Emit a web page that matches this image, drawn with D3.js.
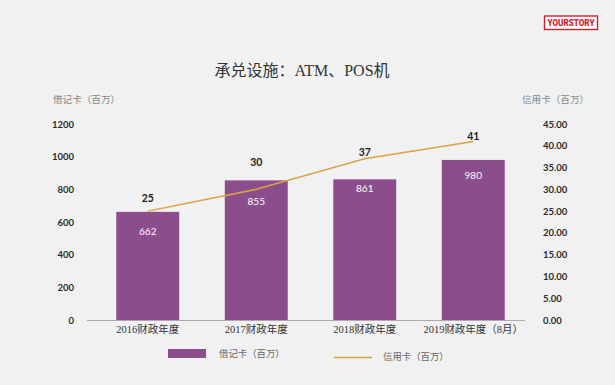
<!DOCTYPE html>
<html>
<head>
<meta charset="utf-8">
<script src="https://cdn.jsdelivr.net/npm/d3@7/dist/d3.min.js"></script>
<style>
  html, body { margin: 0; padding: 0; background: #f1f1f1; }
  svg { display: block; }
  .serif { font-family: "Liberation Serif", "DejaVu Serif", "Noto Sans CJK SC", serif; }
  .sans { font-family: Lato, "Open Sans", "Noto Sans CJK SC", sans-serif; }
</style>
</head>
<body>
<svg id="chart" width="615" height="385"></svg>
<script>
// ---- data ----
const categories = ["2016财政年度", "2017财政年度", "2018财政年度", "2019财政年度（8月）"];
const debitCards = [662, 855, 861, 980];      // 借记卡（百万）
const creditCards = [25, 30, 37, 41];         // 信用卡（百万）
const leftTicks = [0, 200, 400, 600, 800, 1000, 1200];
const rightTicks = [0, 5, 10, 15, 20, 25, 30, 35, 40, 45];
const title = "承兑设施：ATM、POS机";
const leftTitle = "借记卡（百万）";
const rightTitle = "信用卡（百万）";
const legendLabels = ["借记卡（百万）", "信用卡（百万）"];

// ---- drawing ----
const barColor = "#8b4d8b";
const lineColor = "#d8a443";
const svg = d3.select("#chart");

svg.append("rect").attr("width", 615).attr("height", 385).attr("fill", "#f1f1f1");

const x = d3.scaleBand().domain(categories).range([93.5, 527.5]).paddingInner(0.42).paddingOuter(0.21);
const yL = d3.scaleLinear().domain([0, 1200]).range([320, 124]);
const yR = d3.scaleLinear().domain([0, 45]).range([320, 124]);

// title
svg.append("text").attr("class", "serif").attr("x", 302).attr("y", 76)
  .attr("text-anchor", "middle").attr("font-size", 16).attr("fill", "#333").text(title);

// logo
const logo = svg.append("g");
logo.append("rect").attr("x", 544.5).attr("y", 16).attr("width", 53).attr("height", 13.5)
  .attr("fill", "#fff").attr("stroke", "#d0202e").attr("stroke-width", 1.4);
logo.append("text").attr("x", 571).attr("y", 26.4).attr("text-anchor", "middle")
  .attr("font-family", "Roboto, 'Liberation Sans Narrow', sans-serif").attr("font-weight", 900)
  .attr("font-size", 9).attr("fill", "#d0202e").attr("textLength", 47).attr("lengthAdjust", "spacingAndGlyphs")
  .text("YOURSTORY");

// axis titles
svg.append("text").attr("class", "serif").attr("x", 53).attr("y", 102.5)
  .attr("font-size", 9.6).attr("fill", "#888").text(leftTitle);
svg.append("text").attr("class", "serif").attr("x", 522).attr("y", 102.5)
  .attr("font-size", 9.6).attr("fill", "#888").text(rightTitle);

// left axis
const axL = svg.append("g").attr("transform", "translate(74,0)")
  .call(d3.axisLeft(yL).tickValues(leftTicks).tickSize(0).tickPadding(0).tickFormat(d3.format("d")));
axL.select(".domain").remove();
axL.selectAll("text").attr("class", "sans").attr("font-size", 9.5).attr("font-weight", 700).attr("fill", "#2a2a2a");

// right axis
const axR = svg.append("g").attr("transform", "translate(543,0)")
  .call(d3.axisRight(yR).tickValues(rightTicks).tickSize(0).tickPadding(0).tickFormat(d3.format(".2f")));
axR.select(".domain").remove();
axR.selectAll("text").attr("class", "sans").attr("font-size", 9.5).attr("font-weight", 700).attr("fill", "#2a2a2a");

// bars
svg.append("g").selectAll("rect").data(debitCards).join("rect")
  .attr("x", (d, i) => x(categories[i]))
  .attr("y", d => yL(d))
  .attr("width", x.bandwidth())
  .attr("height", d => yL(0) - yL(d))
  .attr("fill", barColor);

// baseline
svg.append("line").attr("x1", 87).attr("x2", 525).attr("y1", 320.5).attr("y2", 320.5)
  .attr("stroke", "#aaa").attr("stroke-width", 1);

// category labels
const axB = svg.append("g").attr("transform", "translate(0,320)")
  .call(d3.axisBottom(x).tickSize(0).tickPadding(6));
axB.select(".domain").remove();
axB.selectAll("text").attr("class", "serif").attr("font-size", 10.5).attr("fill", "#333");

// line
const cx = (i) => x(categories[i]) + x.bandwidth() / 2;
const line = d3.line().x((d, i) => cx(i)).y(d => yR(d));
svg.append("path").datum(creditCards).attr("d", line)
  .attr("fill", "none").attr("stroke", lineColor).attr("stroke-width", 1.5);

// value labels
const barLabelDy = [20, 21, 9, 16];
const lineLabelDy = [-13, -27, -7, -5];
svg.append("g").selectAll("text").data(debitCards).join("text")
  .attr("class", "sans")
  .attr("x", (d, i) => cx(i)).attr("y", (d, i) => yL(d) + barLabelDy[i])
  .attr("dy", "0.35em").attr("text-anchor", "middle")
  .attr("font-size", 10).attr("fill", "#fff").text(d => d);
svg.append("g").selectAll("text").data(creditCards).join("text")
  .attr("class", "sans")
  .attr("x", (d, i) => cx(i)).attr("y", (d, i) => yR(d) + lineLabelDy[i])
  .attr("dy", "0.35em").attr("text-anchor", "middle")
  .attr("font-size", 10.5).attr("font-weight", 700).attr("fill", "#222").text(d => d);

// legend
svg.append("rect").attr("x", 168).attr("y", 349).attr("width", 38).attr("height", 9).attr("fill", barColor);
svg.append("text").attr("class", "serif").attr("x", 219).attr("y", 353.5).attr("dy", "0.35em")
  .attr("font-size", 9.4).attr("fill", "#666").text(legendLabels[0]);
svg.append("line").attr("x1", 334).attr("x2", 372).attr("y1", 357.5).attr("y2", 357.5)
  .attr("stroke", lineColor).attr("stroke-width", 1.6);
svg.append("text").attr("class", "serif").attr("x", 383).attr("y", 356.5).attr("dy", "0.35em")
  .attr("font-size", 9.4).attr("fill", "#666").text(legendLabels[1]);
</script>
</body>
</html>
